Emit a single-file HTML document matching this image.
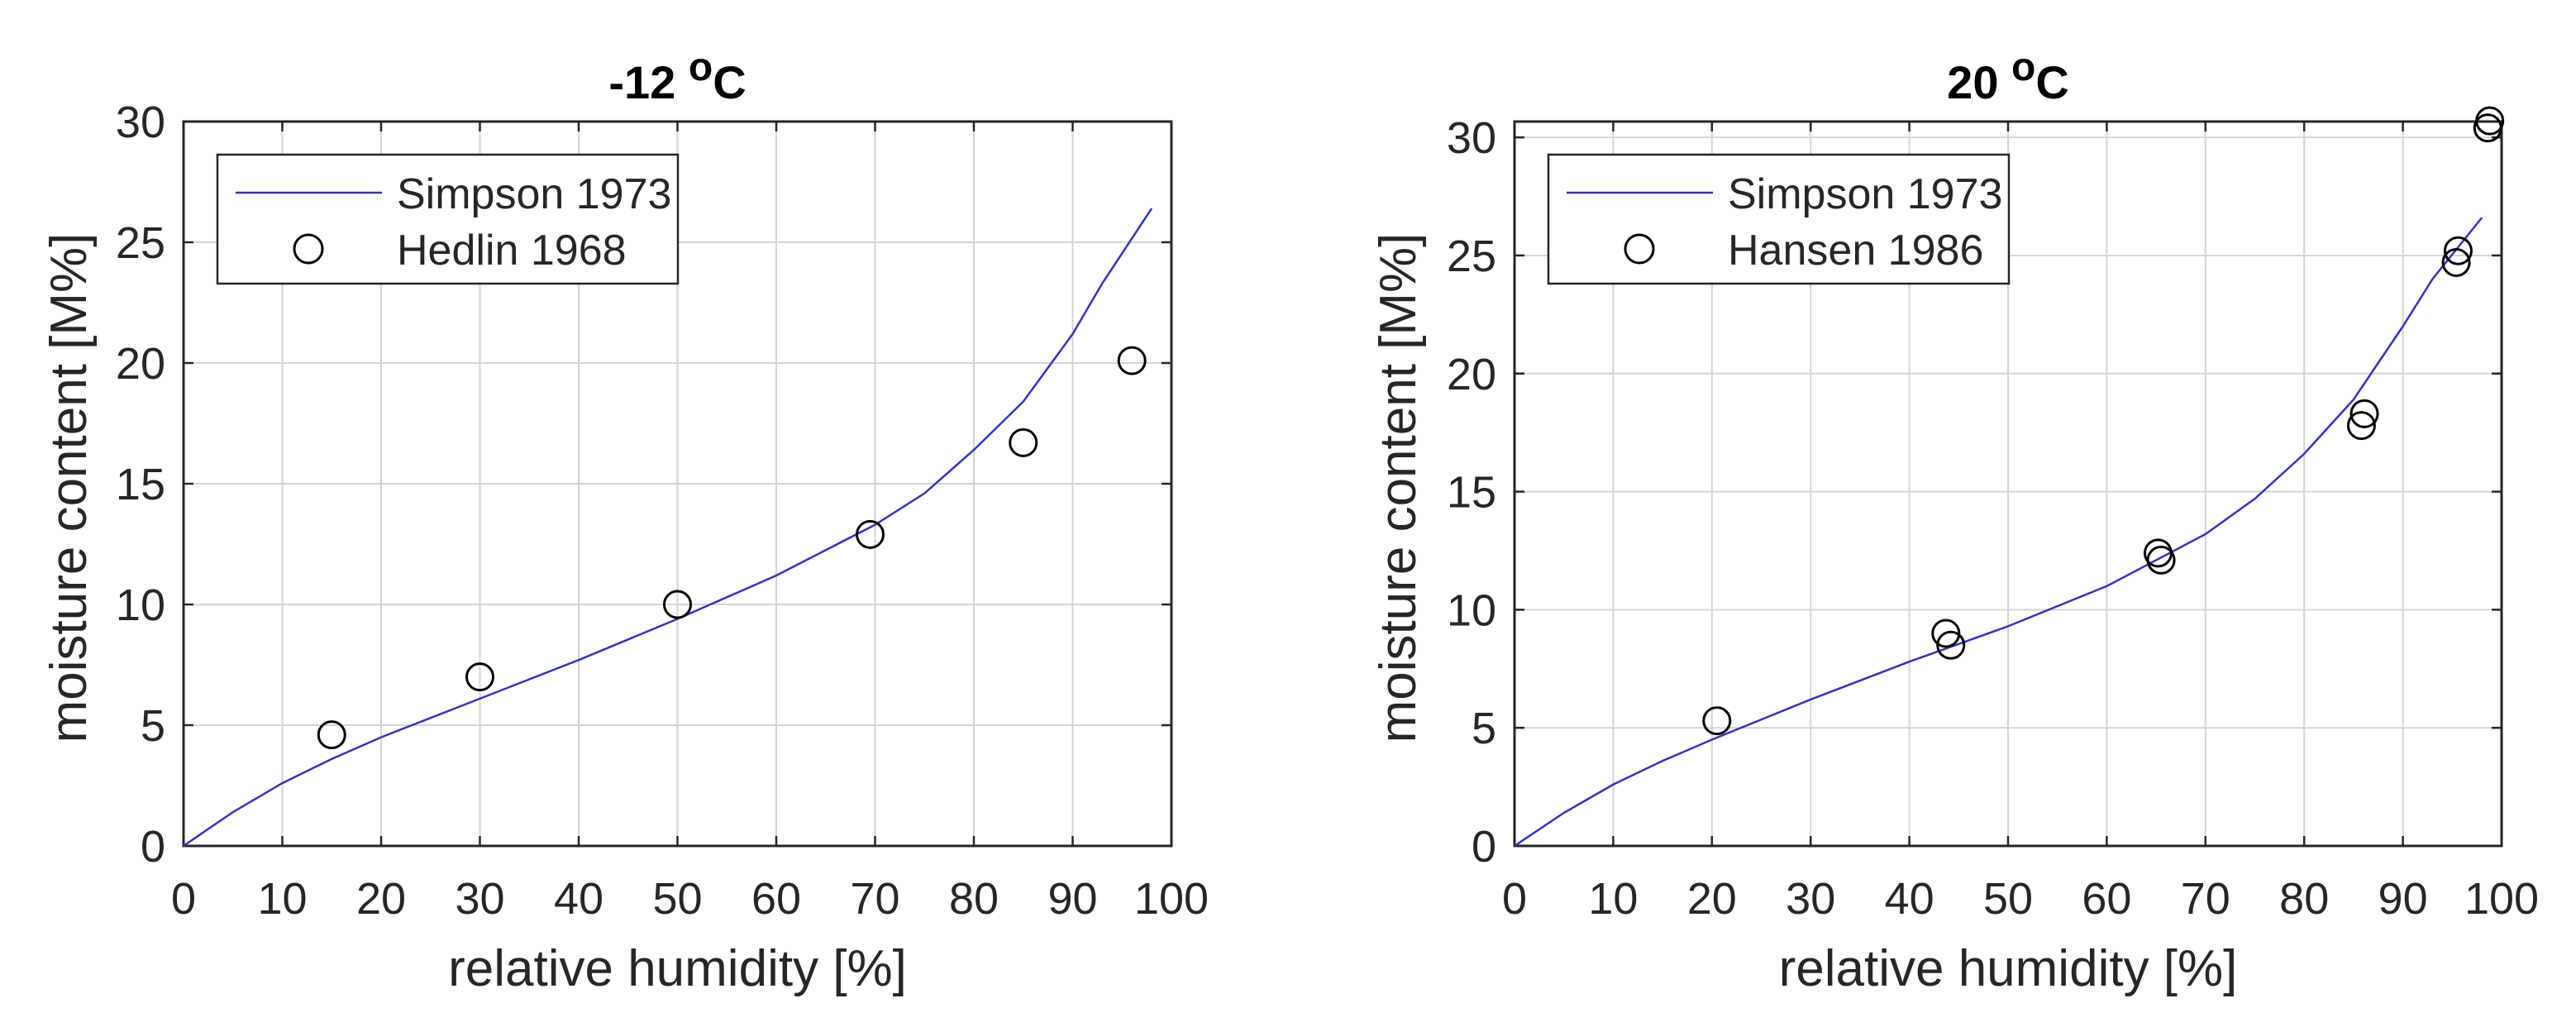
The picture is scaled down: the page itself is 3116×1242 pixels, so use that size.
<!DOCTYPE html>
<html><head><meta charset="utf-8"><style>
html,body{margin:0;padding:0;background:#fff}
svg{display:block}
text{font-family:"Liberation Sans",sans-serif;fill:#262626}
</style></head><body>
<svg id="fig" width="3116" height="1242" viewBox="0 0 3116 1242" xmlns="http://www.w3.org/2000/svg"></svg>
<script>
const xTicks=[0,10,20,30,40,50,60,70,80,90,100];
const yTicks=[0,5,10,15,20,25,30];
const curveRH=[0,5,10,15,20,30,40,50,60,70,75,80,85,90,93,98];
const curveLeftMC=[0,1.4,2.6,3.6,4.5,6.1,7.7,9.4,11.2,13.3,14.6,16.4,18.4,21.2,23.3,26.4];
const curveRightMC=[0,1.4,2.6,3.6,4.5,6.2,7.8,9.3,11.0,13.2,14.7,16.6,18.9,22.0,24.0,26.6];
const hedlinRH=[15,30,50,69.5,85,96];
const hedlinMC=[4.6,7.0,10.0,12.9,16.7,20.1];
const hansenRH=[20.5,43.7,44.2,65.2,65.5,85.8,86.1,95.4,95.6,98.6,98.8];
const hansenMC=[5.3,9.0,8.5,12.4,12.1,17.8,18.3,24.7,25.2,30.4,30.7];

const NS="http://www.w3.org/2000/svg";
const svg=document.getElementById('fig');
function mk(tag,attrs,parent){const e=document.createElementNS(NS,tag);for(const k in attrs)e.setAttribute(k,attrs[k]);(parent||svg).appendChild(e);return e;}

function panel(cfg){
  const g=mk('g',{});
  
  
  const X=v=>cfg.x0+(v-0)/(100-0)*(cfg.x1-cfg.x0);
  const Y=v=>cfg.yb-(v-0)/(cfg.ymax)*(cfg.yb-cfg.yt);
  xTicks.forEach(t=>{ if(t>0&&t<100){const l=mk('line',{x1:X(t),x2:X(t),y1:cfg.yt,y2:cfg.yb,stroke:'#d4d4d4','stroke-width':2},g);
    }});
  yTicks.forEach(t=>{ if(t>0&&t<cfg.ymax){const l=mk('line',{x1:cfg.x0,x2:cfg.x1,y1:Y(t),y2:Y(t),stroke:'#d4d4d4','stroke-width':2},g);
    }});
  xTicks.forEach(t=>{
    mk('line',{x1:X(t),x2:X(t),y1:cfg.yb,y2:cfg.yb-12,stroke:'#262626','stroke-width':2.5},g);
    mk('line',{x1:X(t),x2:X(t),y1:cfg.yt,y2:cfg.yt+12,stroke:'#262626','stroke-width':2.5},g);
    const tx=mk('text',{x:X(t),y:1105,'font-size':54,'text-anchor':'middle'},g);tx.textContent=t;
    
  });
  yTicks.forEach(t=>{
    mk('line',{x1:cfg.x0,x2:cfg.x0+12,y1:Y(t),y2:Y(t),stroke:'#262626','stroke-width':2.5},g);
    mk('line',{x1:cfg.x1,x2:cfg.x1-12,y1:Y(t),y2:Y(t),stroke:'#262626','stroke-width':2.5},g);
    const tx=mk('text',{x:cfg.x0-22,y:Y(t)+19,'font-size':54,'text-anchor':'end'},g);tx.textContent=t;
    
  });
  const b=mk('rect',{x:cfg.x0,y:cfg.yt,width:cfg.x1-cfg.x0,height:cfg.yb-cfg.yt,fill:'none',stroke:'#262626','stroke-width':3},g);
  
  const pts=curveRH.map((r,i)=>X(r)+','+Y(cfg.curve[i])).join(' ');
  const pl=mk('polyline',{points:pts,fill:'none',stroke:'#3333bb','stroke-width':2.5},g);
  
  cfg.px.forEach((r,i)=>{const c=mk('ellipse',{cx:X(r),cy:Y(cfg.py[i]),rx:16,ry:16,fill:'none',stroke:'#000','stroke-width':3},g);
    });
  const L=cfg.leg;
  const lg=mk('g',{},g);
  mk('rect',{x:L,y:187,width:557,height:156,fill:'#fff',stroke:'#262626','stroke-width':2.5},lg);
  mk('line',{x1:L+22,x2:L+199,y1:233,y2:233,stroke:'#3333bb','stroke-width':2.5},lg);
  mk('ellipse',{cx:L+110,cy:301,rx:17,ry:17,fill:'none',stroke:'#000','stroke-width':3},lg);
  const t1=mk('text',{x:L+217,y:252,'font-size':52},lg);t1.textContent='Simpson 1973';
  
  const t2=mk('text',{x:L+217,y:320,'font-size':52},lg);t2.textContent=cfg.ptLabel;
  
  const cx=(cfg.x0+cfg.x1)/2;
  const ti=mk('text',{x:cx,y:119,'font-size':56,'font-weight':'bold','text-anchor':'middle',style:'fill:#000'},g);
  ti.innerHTML=cfg.title+' <tspan dy="-22" font-size="48">o</tspan><tspan dy="22">C</tspan>';
  
  const xl=mk('text',{x:cx,y:1192,'font-size':62,'text-anchor':'middle'},g);xl.textContent='relative humidity [%]';
  
  const yl=mk('text',{x:0,y:0,'font-size':62,'text-anchor':'middle',transform:`translate(${cfg.ylx},590) rotate(-90)`},g);yl.textContent='moisture content [M%]';
  
}
panel({name:'panel-minus12C',x0:222,x1:1417,yt:147,yb:1023,ymax:30,curve:curveLeftMC,px:hedlinRH,py:hedlinMC,ptName:'hedlin-1968-point',ptLabel:'Hedlin 1968',leg:263,title:'-12',ylx:104});
panel({name:'panel-20C',x0:1832,x1:3026,yt:147,yb:1023,ymax:30.67,curve:curveRightMC,px:hansenRH,py:hansenMC,ptName:'hansen-1986-point',ptLabel:'Hansen 1986',leg:1873,title:'20',ylx:1712});
</script>
</body></html>
